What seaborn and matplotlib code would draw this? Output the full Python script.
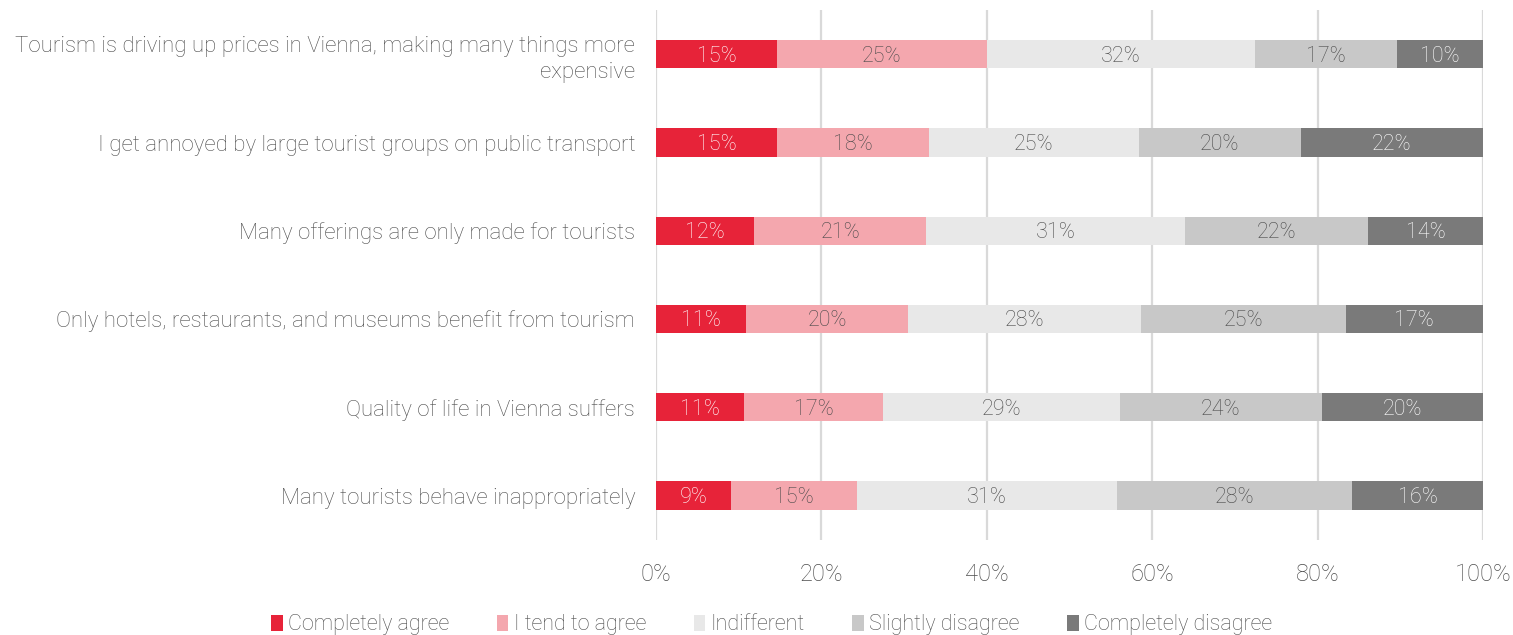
import numpy as np
import pandas as pd
import matplotlib.pyplot as plt
import seaborn as sns
from matplotlib.patches import Patch

# --- Data (share of respondents, %) ---
statements = [
    "Tourism is driving up prices in Vienna, making many things more\nexpensive",
    "I get annoyed by large tourist groups on public transport",
    "Many offerings are only made for tourists",
    "Only hotels, restaurants, and museums benefit from tourism",
    "Quality of life in Vienna suffers",
    "Many tourists behave inappropriately",
]
answers = ["Completely agree", "I tend to agree", "Indifferent",
           "Slightly disagree", "Completely disagree"]
completely_agree = [14.6, 14.6, 11.9, 10.9, 10.6, 9.1]
tend_to_agree = [25.4, 18.4, 20.8, 19.6, 16.9, 15.2]
indifferent = [32.4, 25.4, 31.3, 28.1, 28.6, 31.4]
slightly_disagree = [17.2, 19.6, 22.1, 24.8, 24.4, 28.5]
completely_disagree = [10.4, 22.0, 13.9, 16.6, 19.5, 15.8]
# ---------------------------------------

colors = ["#e72339", "#f4a7ae", "#e8e8e8", "#c8c8c8", "#7a7a7a"]
label_colors = ["white", "#4a4a4a", "#4a4a4a", "#4a4a4a", "white"]
text_col = "#4d4d4d"

sns.set_theme(style="white")
plt.rcParams["font.family"] = ["Roboto", "DejaVu Sans"]
plt.rcParams["font.weight"] = "light"

values = np.array([completely_agree, tend_to_agree, indifferent,
                   slightly_disagree, completely_disagree]).T
cum = values.cumsum(axis=1)
df = pd.DataFrame(cum, columns=answers)
df["Statement"] = statements

fig = plt.figure(figsize=(15.13, 6.35), dpi=100)
ax = fig.add_axes([0.4336, 0.150, 0.5465, 0.834])

# stacked bars: draw cumulative totals from largest to smallest
for i in range(len(answers) - 1, -1, -1):
    sns.barplot(data=df, x=answers[i], y="Statement", orient="h",
                color=colors[i], width=0.32, linewidth=0, saturation=1,
                ax=ax, zorder=2)

# segment labels
for r in range(len(statements)):
    for i in range(len(answers)):
        left = cum[r, i] - values[r, i]
        ax.text(left + values[r, i] / 2, r + 0.02, f"{values[r, i]:.0f}%",
                ha="center", va="center", fontsize=15.5,
                color=label_colors[i], fontweight="light", zorder=3)

ax.set_xlim(0, 100)
ax.set_ylim(5.5, -0.5)
ax.set_xticks(np.arange(0, 101, 20))
ax.set_xticklabels([f"{t}%" for t in range(0, 101, 20)])
ax.set_xlabel("")
ax.set_ylabel("")
ax.grid(axis="x", color="#d9d9d9", linewidth=1.6, zorder=0)
ax.set_axisbelow(True)
sns.despine(ax=ax, left=True, bottom=True)
ax.tick_params(axis="x", length=0, pad=17, labelsize=17, labelcolor=text_col)
ax.tick_params(axis="y", length=0, pad=15, labelsize=16, labelcolor=text_col)
for lab in ax.get_yticklabels():
    lab.set_horizontalalignment("right")
    lab.set_multialignment("right")
    lab.set_linespacing(1.35)

handles = [Patch(facecolor=c, edgecolor="none") for c in colors]
leg = fig.legend(handles, answers, loc="center", bbox_to_anchor=(0.51, 0.016),
                 ncol=5, frameon=False, fontsize=15.5, handlelength=0.55,
                 handleheight=0.75, handletextpad=0.25, columnspacing=2.2,
                 labelcolor=text_col)

fig.savefig("out.png", dpi=100)
